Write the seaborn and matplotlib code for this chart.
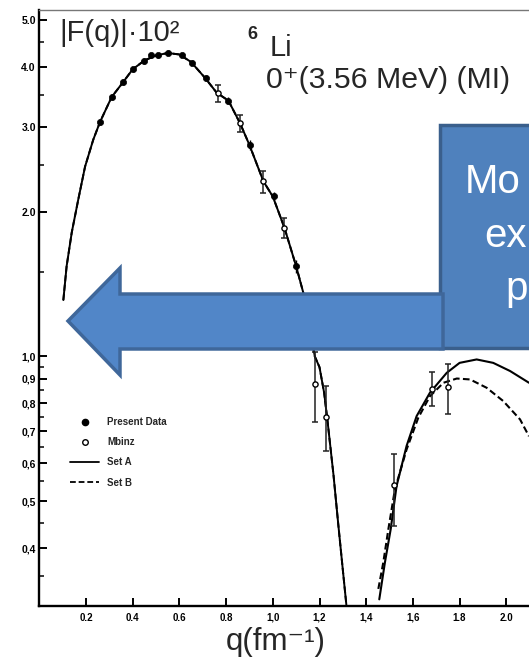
import numpy as np
import pandas as pd
import matplotlib
matplotlib.use("Agg")
import matplotlib.pyplot as plt
import seaborn as sns
from matplotlib.patches import Polygon, Rectangle
from matplotlib.lines import Line2D
from matplotlib.ticker import FixedLocator, NullFormatter

# ---------------- data ----------------
# first lobe (Set A and Set B coincide)
lobe1_q = [0.103, 0.117, 0.139, 0.167, 0.196, 0.231, 0.26, 0.31, 0.36, 0.40, 0.45, 0.50,
           0.55, 0.60, 0.65, 0.71, 0.76, 0.81, 0.86, 0.90, 0.96, 1.00, 1.05, 1.10, 1.13,
           1.18, 1.20, 1.22, 1.235, 1.26, 1.28, 1.30, 1.315]
lobe1_f = [1.31, 1.54, 1.81, 2.12, 2.48, 2.82, 3.07, 3.46, 3.72, 3.95, 4.12, 4.22,
           4.27, 4.24, 4.09, 3.79, 3.53, 3.40, 3.05, 2.75, 2.31, 2.15, 1.85, 1.54, 1.36,
           1.00, 0.95, 0.84, 0.73, 0.567, 0.45, 0.36, 0.305]
# second lobe
setA_q = [1.456, 1.48, 1.505, 1.53, 1.573, 1.616, 1.673, 1.745, 1.80, 1.873, 1.944, 2.016, 2.097]
setA_f = [0.313, 0.373, 0.438, 0.538, 0.652, 0.752, 0.841, 0.925, 0.97, 0.986, 0.97, 0.933, 0.882]
setB_q = [1.452, 1.473, 1.495, 1.523, 1.573, 1.623, 1.673, 1.731, 1.788, 1.845, 1.916, 1.987, 2.059, 2.097]
setB_f = [0.329, 0.373, 0.438, 0.53, 0.641, 0.746, 0.827, 0.882, 0.90, 0.896, 0.861, 0.808, 0.74, 0.683]

present_q = [0.26, 0.31, 0.36, 0.40, 0.448, 0.477, 0.507, 0.553, 0.612, 0.652, 0.714, 0.81, 0.902, 1.005, 1.10]
present_f = [3.07, 3.46, 3.72, 3.95, 4.11, 4.22, 4.22, 4.28, 4.23, 4.08, 3.79, 3.40, 2.75, 2.15, 1.54]
present_err = [0.05, 0.05, 0.05, 0.05, 0.05, 0.05, 0.05, 0.05, 0.05, 0.05, 0.06, 0.06, 0.06, 0.05, 0.05]

moinz_q = [0.764, 0.86, 0.96, 1.05, 1.18, 1.227, 1.52, 1.68, 1.75]
moinz_f = [3.52, 3.05, 2.31, 1.85, 0.875, 0.75, 0.54, 0.857, 0.865]
moinz_lo = [3.38, 2.93, 2.19, 1.76, 0.73, 0.636, 0.444, 0.79, 0.758]
moinz_hi = [3.66, 3.17, 2.43, 1.94, 1.02, 0.868, 0.626, 0.928, 0.967]

xtick_vals = [0.2, 0.4, 0.6, 0.8, 1.0, 1.2, 1.4, 1.6, 1.8, 2.0]
xtick_labels = ["0.2", "0.4", "0.6", "0.8", "1,0", "1,2", "1,4", "1,6", "1.8", "2.0"]
ytick_vals = [0.4, 0.5, 0.6, 0.7, 0.8, 0.9, 1.0, 2.0, 3.0, 4.0, 5.0]
ytick_labels = ["0,4", "0,5", "0,6", "0,7", "0,8", "0,9", "1,0", "2.0", "3.0", "4.0", "5.0"]
yminor_vals = [0.35, 0.45, 0.55, 0.65, 0.75, 0.85, 0.95, 1.5, 2.5, 3.5, 4.5]

legend_labels = ["Present Data", "Mbinz", "Set A", "Set B"]
box_lines = ["Mo", "ex", "p"]

# ---------------- figure ----------------
sns.set_style("ticks")
plt.rcParams['font.family'] = ['Liberation Sans', 'DejaVu Sans']

W, H = 529, 657
fig = plt.figure(figsize=(W / 100, H / 100), dpi=100)


def fx(px):
    return px / W


def fy(py):
    return 1 - py / H


ax = fig.add_axes([fx(39.3), fy(606), fx(553) - fx(39.3), fy(10) - fy(606)])
ax.set_yscale('log')

dash = (0, (3.2, 1.6))
df1 = pd.DataFrame({"q": lobe1_q, "f": lobe1_f})
dfA = pd.DataFrame({"q": setA_q, "f": setA_f})
dfB = pd.DataFrame({"q": setB_q, "f": setB_f})
sns.lineplot(data=df1, x="q", y="f", ax=ax, color="black", lw=1.4, sort=False, estimator=None)
sns.lineplot(data=df1, x="q", y="f", ax=ax, color="black", lw=1.4, sort=False, estimator=None, linestyle=dash)
sns.lineplot(data=dfA, x="q", y="f", ax=ax, color="black", lw=1.5, sort=False, estimator=None)
sns.lineplot(data=dfB, x="q", y="f", ax=ax, color="black", lw=1.5, sort=False, estimator=None, linestyle=dash)

# error bars
ax.errorbar(present_q, present_f, yerr=present_err, fmt='none', ecolor='black', elinewidth=1.0, capsize=0)
m_f = np.array(moinz_f)
yerr = [m_f - np.array(moinz_lo), np.array(moinz_hi) - m_f]
ax.errorbar(moinz_q, moinz_f, yerr=yerr, fmt='none', ecolor='#222222', elinewidth=1.1, capsize=2.0, capthick=1.1)

dfp = pd.DataFrame({"q": present_q, "f": present_f})
dfm = pd.DataFrame({"q": moinz_q, "f": moinz_f})
sns.scatterplot(data=dfp, x="q", y="f", ax=ax, color="black", s=20, edgecolor="black", linewidth=0.5, zorder=4)
sns.scatterplot(data=dfm, x="q", y="f", ax=ax, facecolor="white", s=14, edgecolor="black", linewidth=1.0, zorder=4)

ax.set_xlim(0, 2.2)
ax.set_ylim(0.3032, 5.245)
ax.set_xlabel("")
ax.set_ylabel("")

ax.set_xticks(xtick_vals, xtick_labels, fontsize=7, fontweight='bold')
ax.set_yticks(ytick_vals, ytick_labels, fontsize=7.5, fontweight='bold')
ax.yaxis.set_minor_locator(FixedLocator(yminor_vals))
ax.yaxis.set_minor_formatter(NullFormatter())
ax.xaxis.set_minor_locator(FixedLocator([]))
ax.tick_params(axis='both', which='major', direction='in', length=6, width=1.4, colors='black')
ax.tick_params(axis='y', which='minor', direction='in', length=3.5, width=1.3)
ax.tick_params(axis='y', which='major', pad=2.5)
ax.tick_params(axis='x', which='major', pad=5)

for s in ['left', 'bottom']:
    ax.spines[s].set_linewidth(1.7)
    ax.spines[s].set_color('black')
ax.spines['top'].set_linewidth(1.0)
ax.spines['top'].set_color('#777777')
ax.spines['right'].set_visible(False)

# legend
handles = [
    Line2D([], [], marker='o', ls='none', color='black', markersize=4.5),
    Line2D([], [], marker='o', ls='none', mfc='white', mec='black', markersize=4, mew=1.0),
    Line2D([], [], color='black', lw=1.3),
    Line2D([], [], color='black', lw=1.3, ls=dash),
]
ax.legend(handles, legend_labels, loc='upper left', bbox_to_anchor=(fx(70), fy(417)),
          bbox_transform=fig.transFigure, frameon=False, prop={'weight': 'bold', 'size': 7},
          handlelength=3.0, handletextpad=0.8, labelspacing=1.05, borderpad=0, borderaxespad=0)

# titles
fig.text(fx(59), fy(41), "|F(q)|·10²", fontsize=21, va='baseline', ha='left')
fig.text(fx(247), fy(39), "6", fontsize=13, fontweight='bold', va='baseline', ha='left')
fig.text(fx(270), fy(56), "Li", fontsize=21, va='baseline', ha='left')
fig.text(fx(266), fy(88), "0⁺(3.56 MeV) (MI)", fontsize=21.8, va='baseline', ha='left')
fig.text(fx(226), fy(650), "q(fm⁻¹)", fontsize=22.5, va='baseline', ha='left')

# overlay: box and arrow
box = Rectangle((fx(440), fy(348)), fx(720) - fx(440), fy(125) - fy(348), transform=fig.transFigure,
                facecolor='#4F81BD', edgecolor='#3A5F8C', linewidth=2.5, zorder=5)
fig.add_artist(box)
arrow_px = [(68, 321), (120, 268), (120, 294), (443, 294), (443, 349), (120, 349), (120, 375)]
arrow = Polygon([(fx(x), fy(y)) for x, y in arrow_px], closed=True, transform=fig.transFigure,
                facecolor='#5186C8', edgecolor='#3F679A', linewidth=2.5, joinstyle='miter', zorder=6)
fig.add_artist(arrow)

fig.text(fx(465), fy(193), box_lines[0], fontsize=29, color='white', va='baseline', ha='left', zorder=7)
fig.text(fx(484), fy(247), box_lines[1], fontsize=29, color='white', va='baseline', ha='left', zorder=7)
fig.text(fx(505), fy(300), box_lines[2], fontsize=29, color='white', va='baseline', ha='left', zorder=7)

fig.savefig("out.png", dpi=100)
